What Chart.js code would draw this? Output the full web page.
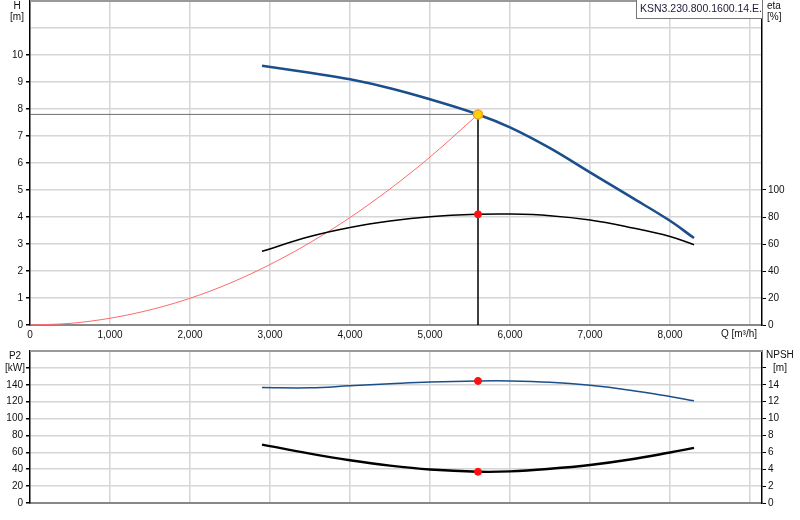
<!DOCTYPE html>
<html>
<head>
<meta charset="utf-8">
<script src="https://cdn.jsdelivr.net/npm/chart.js@4"></script>
<style>
html,body{margin:0;padding:0;background:#fff;width:800px;height:520px;overflow:hidden;}
canvas{position:absolute;left:0;}
#c1{top:0;}
#c2{top:340px;}
</style>
</head>
<body>
<canvas id="c1" width="800" height="340"></canvas>
<canvas id="c2" width="800" height="180"></canvas>
<script>
// ---- data ----
const Q      = [2900, 3500, 4000, 4500, 5000, 5600, 6000, 6500, 7000, 7500, 8000, 8300];
const H      = [9.60, 9.34, 9.10, 8.77, 8.36, 7.80, 7.32, 6.55, 5.65, 4.76, 3.86, 3.22];
const ETA    = [54.6, 65.5, 72.2, 77.0, 80.2, 82.0, 82.2, 81.0, 77.8, 72.3, 65.6, 59.5];
const P2     = [136.7, 136.4, 138.8, 141.2, 143.3, 144.6, 144.6, 143.0, 139.3, 133.5, 126.0, 121.0];
const NPSH   = [6.92, 5.85, 5.06, 4.42, 3.96, 3.70, 3.74, 4.05, 4.50, 5.15, 5.98, 6.52];
const SYS_Q  = [0, 500, 1000, 1500, 2000, 2500, 3000, 3500, 4000, 4500, 5000, 5600];
const SYS_H  = [0, 0.06, 0.25, 0.56, 0.99, 1.55, 2.24, 3.05, 3.98, 5.04, 6.22, 7.80];
const OP     = {q: 5600, h: 7.80, eta: 82.0, p2: 144.6, npsh: 3.70};
const X_TICKS   = [0, 1000, 2000, 3000, 4000, 5000, 6000, 7000, 8000, 9000];
const H_TICKS   = [0, 1, 2, 3, 4, 5, 6, 7, 8, 9, 10, 11, 12];
const ETA_TICKS = [0, 20, 40, 60, 80, 100];
const P2_TICKS  = [0, 20, 40, 60, 80, 100, 120, 140, 160, 180];
const NPSH_TICKS= [0, 2, 4, 6, 8, 10, 12, 14, 16, 18];
const TITLE = 'KSN3.230.800.1600.14.E.';

const pts = (xs, ys) => xs.map((x, i) => ({x: x, y: ys[i]}));
const FONT = "'Liberation Sans', Arial, sans-serif";
Chart.defaults.font.family = FONT;
Chart.defaults.font.size = 10;
Chart.defaults.color = '#111';
const GRID = '#d6d6d6';
const BLUE = '#1b4f8c';
const TENSION = 0.4;

function setTicks(list){ return s => { s.ticks = list.map(v => ({value: v})); }; }
function fixW(w){ return s => { s.width = w; s.paddingTop = 0; s.paddingBottom = 0; }; }
function fixH(h){ return s => { s.height = h; s.paddingLeft = 0; s.paddingRight = 0; }; }

function textPlugin(items, box){
  return {
    id: 'txt',
    afterDraw(chart){
      const ctx = chart.ctx;
      ctx.save();
      const a = chart.chartArea;
      ctx.strokeStyle = '#999'; ctx.lineWidth = 2;
      ctx.beginPath(); ctx.moveTo(a.left, a.top); ctx.lineTo(a.right, a.top); ctx.stroke();
      if (box){
        ctx.fillStyle = '#fff';
        ctx.fillRect(box.x, 0, box.w, box.h);
        ctx.strokeStyle = '#777'; ctx.lineWidth = 1;
        ctx.strokeRect(box.x + 0.5, -1, box.w, box.h + 0.5);
        ctx.font = '10.5px ' + FONT;
        ctx.fillStyle = '#1a1a3a';
        ctx.textAlign = 'left'; ctx.textBaseline = 'middle';
        ctx.save();
        ctx.beginPath(); ctx.rect(box.x, 0, box.w, box.h); ctx.clip();
        ctx.fillText(box.text, box.x + 4, 9.5);
        ctx.restore();
      }
      ctx.font = '10px ' + FONT;
      ctx.fillStyle = '#111';
      ctx.textBaseline = 'middle';
      items.forEach(t => { ctx.textAlign = t.al; ctx.fillText(t.s, t.x, t.y); });
      ctx.restore();
    }
  };
}

// ---------- top chart ----------
new Chart(document.getElementById('c1'), {
  type: 'line',
  data: {
    datasets: [
      {data: [{x: OP.q, y: OP.h}], yAxisID: 'y', showLine: false, pointRadius: 4.5,
       pointBackgroundColor: '#ffd400', pointBorderColor: '#f0a020', pointBorderWidth: 1.5, order: 0},
      {data: [{x: OP.q, y: OP.eta}], yAxisID: 'eta', showLine: false, pointRadius: 3.5,
       pointBackgroundColor: '#ff1010', pointBorderColor: '#ff1010', order: 1},
      {data: pts(Q, H), yAxisID: 'y', borderColor: BLUE, borderWidth: 2.6, pointRadius: 0,
       tension: TENSION, order: 2},
      {data: [{x: 0, y: OP.h}, {x: OP.q, y: OP.h}], yAxisID: 'y', borderColor: '#6e6e6e', borderWidth: 1,
       pointRadius: 0, order: 5},
      {data: [{x: OP.q, y: OP.h}, {x: OP.q, y: 0}], yAxisID: 'y', borderColor: '#000', borderWidth: 1.5,
       pointRadius: 0, order: 4},
      {data: pts(SYS_Q, SYS_H), yAxisID: 'y', borderColor: '#ff6a6a', borderWidth: 1, pointRadius: 0,
       cubicInterpolationMode: 'monotone', order: 6},
      {data: pts(Q, ETA), yAxisID: 'eta', borderColor: '#000', borderWidth: 1.5, pointRadius: 0,
       tension: TENSION, order: 3}
    ]
  },
  options: {
    responsive: false, animation: false, devicePixelRatio: 1,
    layout: {autoPadding: false, padding: {top: 1, left: 0, right: 0, bottom: 0}},
    plugins: {legend: {display: false}, tooltip: {enabled: false}},
    scales: {
      x: {type: 'linear', min: 0, max: 9150, afterBuildTicks: setTicks(X_TICKS), afterFit: fixH(15),
          grid: {color: c => c.tick && c.tick.value === 0 ? 'transparent' : GRID, lineWidth: 1.5, drawTicks: false},
          border: {color: '#888', width: 2},
          ticks: {padding: 4, maxRotation: 0, autoSkip: false,
                  callback: v => v <= 8000 ? v.toLocaleString('en-US') : ''}},
      y: {type: 'linear', position: 'left', min: 0, max: 12, afterBuildTicks: setTicks(H_TICKS), afterFit: fixW(30),
          grid: {color: c => (c.tick && (c.tick.value === 0 || c.tick.value === 12)) ? 'transparent' : GRID,
                 lineWidth: 1.5, tickLength: 4,
                 tickColor: c => (c.tick && c.tick.value <= 10) ? '#000' : 'transparent'},
          border: {color: '#000', width: 1.5},
          ticks: {padding: 3, autoSkip: false, callback: v => v <= 10 ? String(v) : ''}},
      eta: {type: 'linear', position: 'right', min: 0, max: 240, afterBuildTicks: setTicks(ETA_TICKS), afterFit: fixW(38),
          grid: {drawOnChartArea: false, tickLength: 4, tickColor: '#000'},
          border: {color: '#000', width: 1.5},
          ticks: {padding: 2, autoSkip: false, callback: v => String(v)}}
    }
  },
  plugins: [textPlugin([
    {s: 'H', x: 17, y: 6, al: 'center'},
    {s: '[m]', x: 17, y: 17, al: 'center'},
    {s: 'eta', x: 767, y: 6, al: 'left'},
    {s: '[%]', x: 767, y: 17, al: 'left'},
    {s: 'Q [m\u00B3/h]', x: 739, y: 334, al: 'center'}
  ], {x: 636, w: 126, h: 19, text: TITLE})]
});

// ---------- bottom chart ----------
new Chart(document.getElementById('c2'), {
  type: 'line',
  data: {
    datasets: [
      {data: [{x: OP.q, y: OP.p2}], yAxisID: 'y', showLine: false, pointRadius: 3.5,
       pointBackgroundColor: '#ff1010', pointBorderColor: '#ff1010', order: 0},
      {data: [{x: OP.q, y: OP.npsh}], yAxisID: 'npsh', showLine: false, pointRadius: 3.5,
       pointBackgroundColor: '#ff1010', pointBorderColor: '#ff1010', order: 1},
      {data: pts(Q, P2), yAxisID: 'y', borderColor: BLUE, borderWidth: 1.5, pointRadius: 0,
       tension: TENSION, order: 2},
      {data: pts(Q, NPSH), yAxisID: 'npsh', borderColor: '#000', borderWidth: 2.4, pointRadius: 0,
       tension: TENSION, order: 3}
    ]
  },
  options: {
    responsive: false, animation: false, devicePixelRatio: 1,
    layout: {autoPadding: false, padding: {top: 11, left: 0, right: 0, bottom: 0}},
    plugins: {legend: {display: false}, tooltip: {enabled: false}},
    scales: {
      x: {type: 'linear', min: 0, max: 9150, afterBuildTicks: setTicks(X_TICKS), afterFit: fixH(17),
          grid: {color: c => c.tick && c.tick.value === 0 ? 'transparent' : GRID, lineWidth: 1.5, drawTicks: false},
          border: {color: '#888', width: 2},
          ticks: {display: false}},
      y: {type: 'linear', position: 'left', min: 0, max: 180, afterBuildTicks: setTicks(P2_TICKS), afterFit: fixW(30),
          grid: {color: c => (c.tick && (c.tick.value === 0 || c.tick.value === 180)) ? 'transparent' : GRID,
                 lineWidth: 1.5, tickLength: 4,
                 tickColor: c => (c.tick && c.tick.value <= 160) ? '#000' : 'transparent'},
          border: {color: '#000', width: 1.5},
          ticks: {padding: 3, autoSkip: false, callback: v => v <= 140 ? String(v) : ''}},
      npsh: {type: 'linear', position: 'right', min: 0, max: 18, afterBuildTicks: setTicks(NPSH_TICKS), afterFit: fixW(38),
          grid: {drawOnChartArea: false, tickLength: 4,
                 tickColor: c => (c.tick && c.tick.value <= 16) ? '#000' : 'transparent'},
          border: {color: '#000', width: 1.5},
          ticks: {padding: 2, autoSkip: false, callback: v => v <= 14 ? String(v) : ''}}
    }
  },
  plugins: [textPlugin([
    {s: 'P2', x: 15, y: 16, al: 'center'},
    {s: '[kW]', x: 15, y: 28, al: 'center'},
    {s: 'NPSH', x: 766, y: 15, al: 'left'},
    {s: '[m]', x: 780, y: 28, al: 'center'}
  ], null)]
});
</script>
</body>
</html>
